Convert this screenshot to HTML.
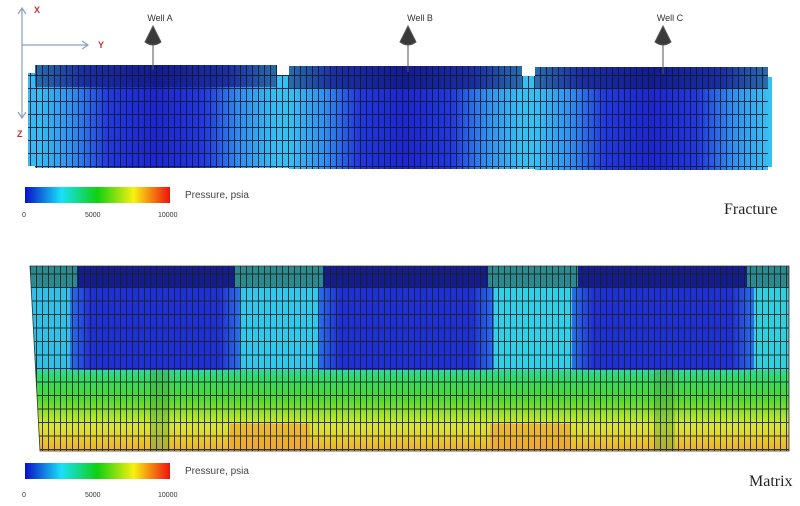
<!DOCTYPE html>
<html><head><meta charset="utf-8"><style>
html,body{margin:0;padding:0;background:#fff;width:800px;height:506px;overflow:hidden}
svg{display:block}
text{font-family:"Liberation Sans",sans-serif}
</style></head><body>
<svg width="800" height="506" viewBox="0 0 800 506" xmlns="http://www.w3.org/2000/svg">
<defs>
<linearGradient id="cb" x1="0" x2="1" y1="0" y2="0">
<stop offset="0" stop-color="#0a10c8"/><stop offset="0.25" stop-color="#18e0f8"/><stop offset="0.5" stop-color="#10d010"/><stop offset="0.75" stop-color="#f8f010"/><stop offset="1" stop-color="#f01010"/></linearGradient>
<linearGradient id="fb" x1="0" x2="1" y1="0" y2="0">
<stop offset="0" stop-color="#36c0f0"/><stop offset="0.15" stop-color="#3090ee"/><stop offset="0.3" stop-color="#2438dc"/><stop offset="0.5" stop-color="#1e26d0"/><stop offset="0.7" stop-color="#2438dc"/><stop offset="0.85" stop-color="#3090ee"/><stop offset="1" stop-color="#36c0f0"/></linearGradient>
<linearGradient id="ft" x1="0" x2="1" y1="0" y2="0">
<stop offset="0" stop-color="#2a6ca8"/><stop offset="0.2" stop-color="#1c2ea0"/><stop offset="0.5" stop-color="#141c90"/><stop offset="0.8" stop-color="#1c2ea0"/><stop offset="1" stop-color="#2a6ca8"/></linearGradient>
<linearGradient id="mv" x1="0" x2="0" y1="266" y2="451" gradientUnits="userSpaceOnUse">
<stop offset="0" stop-color="#30d8e0"/><stop offset="0.55" stop-color="#30d8b0"/><stop offset="0.6" stop-color="#30d870"/><stop offset="0.72" stop-color="#50d830"/><stop offset="0.86" stop-color="#d8e830"/><stop offset="1" stop-color="#f0b030"/></linearGradient>
<linearGradient id="mb" x1="0" x2="1" y1="0" y2="0">
<stop offset="0" stop-color="#2a70ec"/><stop offset="0.12" stop-color="#2030d8"/><stop offset="0.88" stop-color="#2030d8"/><stop offset="1" stop-color="#2a70ec"/></linearGradient>
<pattern id="gf" width="6" height="13" patternUnits="userSpaceOnUse" x="0" y="88">
<path d="M0 0.5H6M0.5 0V13" stroke="#0a1830" stroke-width="1" fill="none" opacity="0.85"/></pattern>
<pattern id="gm" width="6" height="13.5" patternUnits="userSpaceOnUse" x="0" y="287">
<path d="M0 0.5H6M0.5 0V13.5" stroke="#1a2018" stroke-width="1" fill="none" opacity="0.85"/></pattern>
<clipPath id="mc"><path d="M30 266H789V451H40Z"/></clipPath>
</defs>

<g stroke="#8aa0c0" stroke-width="1.2" fill="none">
<path d="M22 118V8M18 14L22 8L26 14M22 45H88M82 41L88 45L82 49M18 112L22 118L26 112"/></g>
<text x="34" y="13" font-size="9" fill="#c03030" font-weight="bold">X</text>
<text x="98" y="48" font-size="9" fill="#c03030" font-weight="bold">Y</text>
<text x="17" y="137" font-size="9" fill="#c03030" font-weight="bold">Z</text>

<rect x="275" y="75" width="15" height="93" fill="#36c0f0"/>
<rect x="520" y="76" width="16" height="93" fill="#36c0f0"/>
<rect x="28" y="73" width="10" height="93" fill="#36b8f0"/>
<rect x="766" y="77" width="6" height="90" fill="#36c0f0"/>
<rect x="275" y="75" width="15" height="93" fill="url(#gf)"/>
<rect x="520" y="76" width="16" height="93" fill="url(#gf)"/>
<g>
<rect x="35" y="65" width="242" height="103" fill="url(#fb)"/><rect x="35" y="65" width="242" height="22" fill="url(#ft)"/>
<rect x="289" y="66" width="233" height="103" fill="url(#fb)"/><rect x="289" y="66" width="233" height="22" fill="url(#ft)"/>
<rect x="535" y="67" width="233" height="103" fill="url(#fb)"/><rect x="535" y="67" width="233" height="22" fill="url(#ft)"/>
<rect x="35" y="65" width="242" height="103" fill="url(#gf)"/>
<rect x="289" y="66" width="233" height="103" fill="url(#gf)"/>
<rect x="535" y="67" width="233" height="103" fill="url(#gf)"/>
<rect x="28" y="73" width="10" height="93" fill="url(#gf)"/>
</g>
<g fill="#3a3a3a" stroke="#555">
<path d="M153 26L145 42Q153 48 161 42Z"/><line x1="153" y1="45" x2="153" y2="70"/>
<path d="M408 26L400 42Q408 48 416 42Z"/><line x1="408" y1="45" x2="408" y2="72"/>
<path d="M663 26L655 42Q663 48 671 42Z"/><line x1="663" y1="45" x2="663" y2="74"/>
</g>
<text x="160" y="21" font-size="9" fill="#333" text-anchor="middle">Well A</text>
<text x="420" y="21" font-size="9" fill="#333" text-anchor="middle">Well B</text>
<text x="670" y="21" font-size="9" fill="#333" text-anchor="middle">Well C</text>

<rect x="25" y="187" width="145" height="16" fill="url(#cb)"/>
<text x="185" y="198" font-size="10" fill="#444">Pressure, psia</text>
<text x="22" y="217" font-size="7" fill="#333">0</text>
<text x="85" y="217" font-size="7" fill="#333">5000</text>
<text x="158" y="217" font-size="7" fill="#333">10000</text>
<text x="724" y="214" font-size="16" fill="#222" style="font-family:'Liberation Serif',serif">Fracture</text>

<g clip-path="url(#mc)">
<rect x="30" y="266" width="760" height="186" fill="url(#mv)"/>
<rect x="30" y="266" width="759" height="21" fill="#2a8a90"/>
<rect x="77" y="266" width="158" height="21" fill="#141c90"/>
<rect x="323" y="266" width="165" height="21" fill="#141c90"/>
<rect x="578" y="266" width="169" height="21" fill="#141c90"/>
<rect x="230" y="287" width="95" height="83" fill="#30c8ec"/>
<rect x="486" y="287" width="94" height="83" fill="#30d0e8"/>
<rect x="745" y="287" width="44" height="83" fill="#30d0e0"/>
<rect x="30" y="287" width="49" height="83" fill="#30c0e8"/>
<rect x="70" y="287" width="170" height="83" fill="url(#mb)"/>
<rect x="318" y="287" width="176" height="83" fill="url(#mb)"/>
<rect x="572" y="287" width="182" height="83" fill="url(#mb)"/>
<rect x="230" y="424" width="80" height="27" fill="#f0a030" opacity="0.6"/>
<rect x="490" y="424" width="80" height="27" fill="#f0a030" opacity="0.6"/>
<rect x="150" y="370" width="20" height="81" fill="#4a9a40" opacity="0.35"/>
<rect x="655" y="370" width="20" height="81" fill="#4a9a40" opacity="0.35"/>
<rect x="30" y="266" width="760" height="186" fill="url(#gm)"/>
</g>
<path d="M30 266H789V451H40Z" fill="none" stroke="#333" stroke-width="0.8"/>

<rect x="25" y="463" width="145" height="16" fill="url(#cb)"/>
<text x="185" y="474" font-size="10" fill="#444">Pressure, psia</text>
<text x="22" y="497" font-size="7" fill="#333">0</text>
<text x="85" y="497" font-size="7" fill="#333">5000</text>
<text x="158" y="497" font-size="7" fill="#333">10000</text>
<text x="749" y="486" font-size="16" fill="#222" style="font-family:'Liberation Serif',serif">Matrix</text>
</svg>
</body></html>
